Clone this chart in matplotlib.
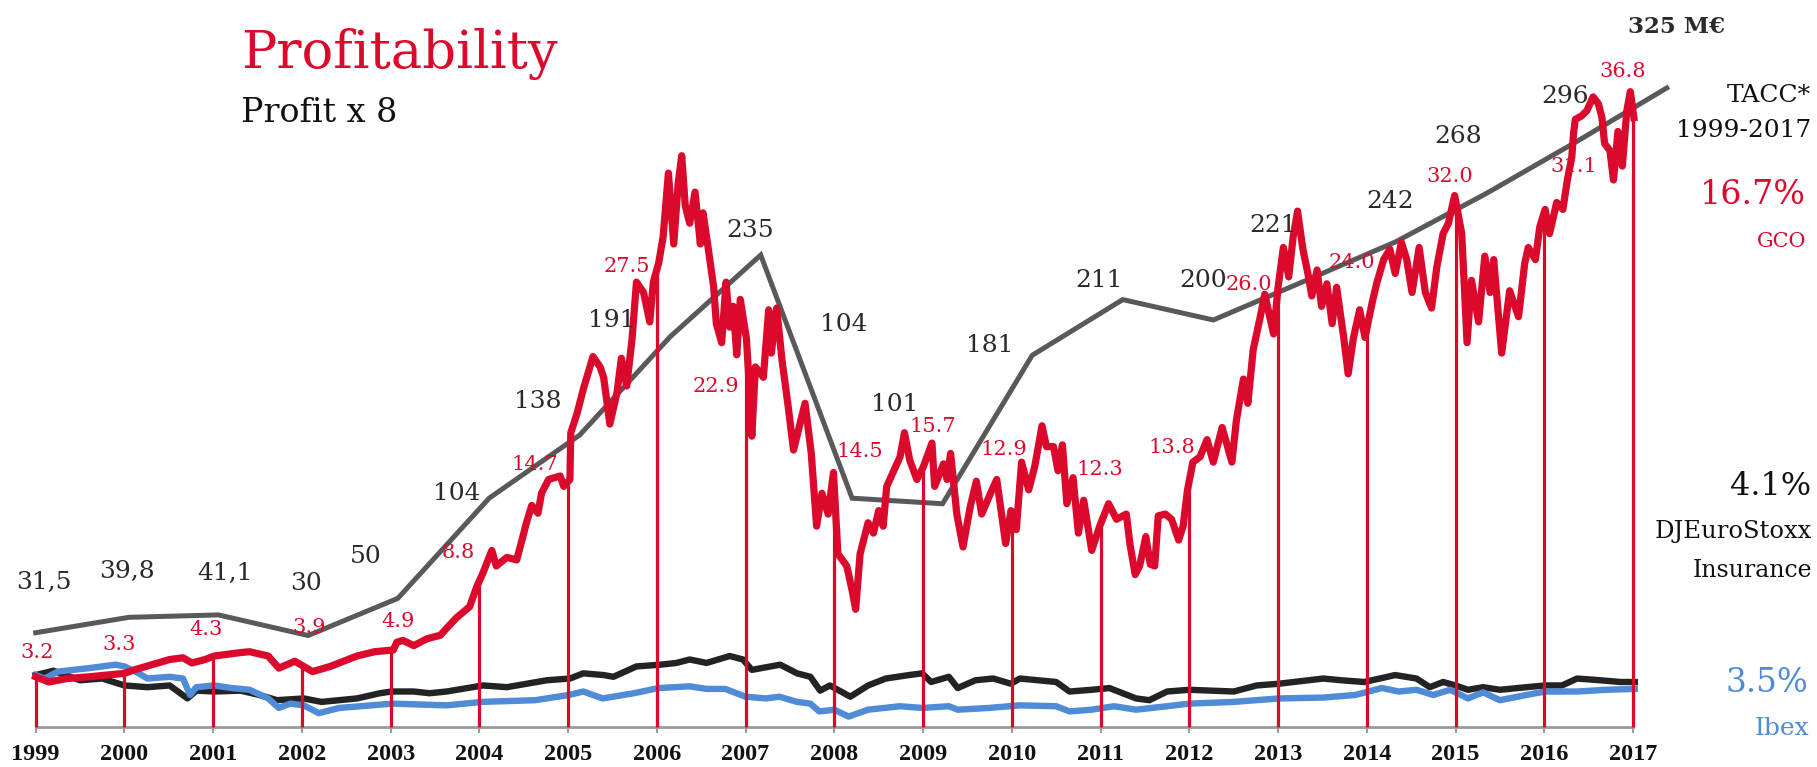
import numpy as np
import matplotlib
matplotlib.use('Agg')
import matplotlib.pyplot as plt

# GCO share price (EUR)
gco_t = [1999.00, 1999.15, 1999.35, 1999.60, 1999.80, 2000.00, 2000.11, 2000.31, 2000.51, 2000.66,
         2000.76, 2000.91, 2001.01, 2001.31, 2001.41, 2001.62, 2001.74, 2001.92, 2002.02, 2002.12,
         2002.32, 2002.62, 2002.82, 2003.03, 2003.07, 2003.14, 2003.26, 2003.41, 2003.56, 2003.63,
         2003.74, 2003.89, 2003.97, 2004.04, 2004.14, 2004.19, 2004.31, 2004.42, 2004.48, 2004.53,
         2004.59, 2004.66, 2004.70, 2004.78, 2004.91, 2004.95, 2005.02, 2005.03, 2005.10, 2005.17,
         2005.28, 2005.36, 2005.40, 2005.47, 2005.55, 2005.60, 2005.66, 2005.72, 2005.77, 2005.85,
         2005.92, 2005.96, 2006.02, 2006.07, 2006.13, 2006.19, 2006.24, 2006.28, 2006.32, 2006.37,
         2006.43, 2006.49, 2006.52, 2006.58, 2006.64, 2006.67, 2006.73, 2006.78, 2006.82, 2006.86,
         2006.90, 2006.94, 2007.01, 2007.05, 2007.07, 2007.11, 2007.20, 2007.26, 2007.29, 2007.35,
         2007.41, 2007.48, 2007.54, 2007.67, 2007.74, 2007.80, 2007.86, 2007.93, 2007.99, 2008.04,
         2008.14, 2008.20, 2008.24, 2008.29, 2008.38, 2008.44, 2008.50, 2008.55, 2008.59, 2008.66,
         2008.74, 2008.79, 2008.85, 2008.93, 2009.00, 2009.10, 2009.13, 2009.23, 2009.27, 2009.31,
         2009.38, 2009.45, 2009.53, 2009.60, 2009.66, 2009.76, 2009.83, 2009.89, 2009.93, 2009.99,
         2010.05, 2010.11, 2010.19, 2010.26, 2010.34, 2010.39, 2010.47, 2010.52, 2010.57, 2010.62,
         2010.69, 2010.75, 2010.81, 2010.90, 2010.99, 2011.09, 2011.18, 2011.29, 2011.33, 2011.39,
         2011.44, 2011.51, 2011.56, 2011.61, 2011.65, 2011.73, 2011.80, 2011.88, 2011.93, 2011.98,
         2012.04, 2012.12, 2012.20, 2012.27, 2012.37, 2012.42, 2012.48, 2012.53, 2012.61, 2012.66,
         2012.72, 2012.80, 2012.85, 2012.95, 2013.00, 2013.06, 2013.12, 2013.17, 2013.22, 2013.28,
         2013.34, 2013.38, 2013.44, 2013.49, 2013.55, 2013.61, 2013.66, 2013.74, 2013.79, 2013.85,
         2013.92, 2013.98, 2014.06, 2014.11, 2014.19, 2014.26, 2014.32, 2014.39, 2014.45, 2014.51,
         2014.59, 2014.66, 2014.73, 2014.79, 2014.86, 2014.92, 2014.99, 2015.07, 2015.13, 2015.18,
         2015.26, 2015.33, 2015.39, 2015.43, 2015.52, 2015.61, 2015.71, 2015.78, 2015.82, 2015.90,
         2015.95, 2016.01, 2016.06, 2016.14, 2016.21, 2016.26, 2016.31, 2016.33, 2016.35, 2016.42,
         2016.48, 2016.55, 2016.61, 2016.65, 2016.68, 2016.74, 2016.78, 2016.83, 2016.88, 2016.93,
         2016.97, 2017.01]
gco_p = [2.9, 2.6, 2.8, 2.9, 3.0, 3.1, 3.3, 3.6, 3.9, 4.0,
         3.7, 3.9, 4.1, 4.3, 4.35, 4.1, 3.4, 3.8, 3.5, 3.2,
         3.5, 4.1, 4.35, 4.45, 4.9, 5.0, 4.7, 5.1, 5.3, 5.7,
         6.3, 6.95, 8.1, 8.9, 10.2, 9.3, 9.8, 9.65, 10.8, 11.8,
         12.8, 12.35, 13.5, 14.3, 14.5, 13.9, 14.3, 17.0, 18.1, 19.5,
         21.4, 20.8, 20.2, 17.5, 19.3, 21.3, 19.7, 22.4, 25.7, 25.1,
         23.4, 25.7, 26.8, 28.3, 32.0, 27.9, 31.4, 33.0, 30.1, 29.1,
         30.9, 27.9, 29.7, 27.6, 25.4, 23.3, 22.2, 25.7, 23.1, 24.3,
         21.5, 24.7, 22.4, 18.9, 16.8, 20.8, 20.2, 24.1, 21.6, 24.2,
         21.2, 18.5, 16.0, 18.7, 15.8, 11.6, 13.5, 12.3, 14.7, 10.0,
         9.3, 7.9, 6.8, 10.0, 11.8, 11.2, 12.5, 11.6, 13.9, 14.7,
         15.6, 17.0, 15.4, 14.3, 15.0, 16.4, 13.9, 15.2, 14.3, 15.8,
         12.3, 10.4, 12.7, 14.2, 12.3, 13.5, 14.3, 12.1, 10.6, 12.5,
         11.4, 15.3, 13.7, 15.1, 17.4, 16.2, 16.2, 14.8, 16.3, 12.9,
         14.4, 11.2, 13.1, 10.2, 11.6, 12.9, 12.0, 12.3, 10.6, 8.8,
         9.3, 11.0, 9.4, 9.3, 12.2, 12.3, 12.0, 10.8, 11.6, 13.7,
         15.3, 15.6, 16.6, 15.3, 17.3, 16.4, 15.3, 17.7, 20.1, 18.7,
         21.8, 23.7, 25.0, 22.7, 25.4, 27.7, 26.0, 28.3, 29.8, 27.6,
         26.1, 24.9, 26.4, 24.3, 25.6, 23.3, 25.4, 22.5, 20.4, 22.5,
         24.1, 22.5, 24.5, 25.6, 27.0, 27.6, 26.2, 28.0, 27.0, 25.1,
         27.7, 25.1, 24.2, 26.6, 28.5, 29.1, 30.7, 28.5, 22.2, 25.8,
         23.4, 27.2, 25.1, 27.0, 21.6, 25.2, 23.7, 26.8, 27.7, 27.0,
         28.9, 29.9, 28.5, 30.3, 29.9, 31.6, 32.9, 34.3, 35.1, 35.3,
         35.6, 36.4, 36.0, 35.2, 33.7, 33.3, 31.6, 34.4, 32.4, 35.6,
         36.7, 35.2]

# DJ EuroStoxx Insurance, rebased to the GCO scale
stoxx_t = [1999.00, 1999.20, 1999.50, 1999.75, 2000.00, 2000.26, 2000.51, 2000.71, 2000.81, 2001.01,
           2001.31, 2001.52, 2001.72, 2002.02, 2002.22, 2002.62, 2002.88, 2003.01, 2003.26, 2003.44,
           2003.63, 2004.04, 2004.31, 2004.76, 2005.02, 2005.17, 2005.40, 2005.51, 2005.77, 2006.04,
           2006.22, 2006.37, 2006.56, 2006.82, 2006.97, 2007.07, 2007.39, 2007.58, 2007.73, 2007.84,
           2007.95, 2008.18, 2008.38, 2008.58, 2008.84, 2008.99, 2009.09, 2009.29, 2009.39, 2009.59,
           2009.79, 2009.99, 2010.09, 2010.50, 2010.65, 2010.90, 2011.10, 2011.40, 2011.55, 2011.75,
           2012.00, 2012.50, 2012.76, 2013.01, 2013.51, 2013.71, 2013.97, 2014.32, 2014.56, 2014.71,
           2014.86, 2015.00, 2015.14, 2015.31, 2015.50, 2015.80, 2016.01, 2016.20, 2016.37, 2016.63,
           2016.86, 2017.02]
stoxx_p = [3.0, 3.25, 2.7, 2.8, 2.4, 2.3, 2.4, 1.65, 2.1, 2.05,
           2.1, 1.85, 1.55, 1.65, 1.45, 1.65, 1.95, 2.05, 2.05, 1.95,
           2.05, 2.4, 2.3, 2.7, 2.8, 3.1, 3.0, 2.9, 3.5, 3.6,
           3.7, 3.9, 3.7, 4.1, 3.9, 3.3, 3.6, 3.1, 2.9, 2.1,
           2.4, 1.75, 2.4, 2.8, 3.0, 3.1, 2.6, 2.9, 2.25, 2.7,
           2.8, 2.5, 2.8, 2.6, 2.05, 2.15, 2.25, 1.65, 1.55, 2.05,
           2.15, 2.05, 2.4, 2.5, 2.8, 2.7, 2.6, 3.0, 2.8, 2.3,
           2.6, 2.4, 2.15, 2.3, 2.15, 2.3, 2.4, 2.4, 2.8, 2.7,
           2.6, 2.6]

# Ibex 35, rebased to the GCO scale
ibex_t = [1999.00, 1999.10, 1999.25, 1999.60, 1999.90, 2000.00, 2000.16, 2000.26, 2000.51, 2000.66,
          2000.74, 2000.81, 2001.01, 2001.21, 2001.41, 2001.62, 2001.74, 2001.87, 2002.02, 2002.19,
          2002.42, 2003.02, 2003.63, 2004.03, 2004.63, 2005.01, 2005.17, 2005.39, 2005.74, 2006.02,
          2006.37, 2006.56, 2006.77, 2007.00, 2007.23, 2007.38, 2007.58, 2007.73, 2007.83, 2008.00,
          2008.16, 2008.38, 2008.74, 2008.99, 2009.29, 2009.39, 2009.74, 2010.09, 2010.50, 2010.65,
          2010.90, 2011.15, 2011.40, 2011.75, 2012.00, 2012.50, 2013.01, 2013.51, 2013.87, 2014.17,
          2014.36, 2014.56, 2014.75, 2014.94, 2015.14, 2015.31, 2015.50, 2015.80, 2016.01, 2016.37,
          2016.70, 2017.02]
ibex_p = [3.0, 2.8, 3.2, 3.4, 3.6, 3.5, 3.1, 2.8, 2.9, 2.8,
          1.85, 2.3, 2.4, 2.25, 2.15, 1.65, 1.1, 1.35, 1.25, 0.8,
          1.1, 1.35, 1.25, 1.45, 1.55, 1.85, 2.05, 1.65, 1.95, 2.25,
          2.35, 2.2, 2.2, 1.75, 1.65, 1.75, 1.45, 1.35, 0.9, 1.0,
          0.6, 1.0, 1.2, 1.1, 1.2, 1.0, 1.1, 1.25, 1.2, 0.9,
          1.0, 1.2, 1.0, 1.2, 1.35, 1.45, 1.65, 1.7, 1.85, 2.25,
          2.05, 2.15, 1.85, 2.15, 1.65, 2.0, 1.55, 1.85, 2.05, 2.05,
          2.15, 2.2]

# profit (M EUR), one point per year
profit_t = [1999.0, 2000.05, 2001.06, 2002.07, 2003.08, 2004.11, 2005.13, 2006.15, 2007.17, 2008.2,
            2009.22, 2010.23, 2011.25, 2012.27, 2013.3, 2014.32, 2015.34, 2016.36, 2017.38]
profit = [31.5, 39.8, 41.1, 30, 50, 104, 138, 191, 235, 104,
          101, 181, 211, 200, 221, 242, 268, 296, 325]
profit_lbl = ['31,5', '39,8', '41,1', '30', '50', '104', '138', '191', '235', '104',
              '101', '181', '211', '200', '221', '242', '268', '296']

years = list(range(1999, 2018))
year_price = ['3.2', '3.3', '4.3', '3.9', '4.9', '8.8', '14.7', '27.5', '22.9', '14.5',
              '15.7', '12.9', '12.3', '13.8', '26.0', '24.0', '32.0', '31.1', '36.8']

# label anchors in pixels (center x, baseline y)
profit_lbl_xy = [(44, 589), (127, 578), (225, 580), (306, 590), (366, 563), (457, 500), (538, 408),
                 (612, 327), (750, 237), (844, 331), (895, 411), (990, 352), (1099, 287), (1203, 287),
                 (1273, 232), (1390, 208), (1458, 143), (1565, 103)]
price_lbl_xy = [(37, 658), (119, 650), (206, 635), (309, 633), (398, 627), (458, 558), (535, 470),
                (627, 272), (716, 392), (860, 457), (933, 432), (1004, 455), (1100, 475), (1172, 453),
                (1249, 290), (1352, 268), (1450, 182), (1574, 172), (1623, 77)]

W, H = 1817, 767
RED = '#DB0A2D'
BLUE = '#4F8BD6'
BLACK = '#232323'
GREY = '#595959'
FONT = 'DejaVu Serif'


def ftext(x, y, s, **kw):
    kw.setdefault('family', FONT)
    fig.text(x / W, 1 - y / H, s, **kw)


fig = plt.figure(figsize=(W / 100, H / 100), dpi=100)
ax = fig.add_axes([35.7 / W, 40 / H, (1633 - 35.7) / W, 667 / H])
ax.set_xlim(1999, 2017)
ax.set_ylim(-19.29, 340.09)
ax.plot(profit_t, profit, color=GREY, lw=3.6, clip_on=False, solid_joinstyle='miter')

ax2 = ax.twinx()
ax2.set_ylim(0, 38.53)
ax2.plot(stoxx_t, stoxx_p, color=BLACK, lw=4.6, zorder=2, clip_on=False)
ax2.plot(ibex_t, ibex_p, color=BLUE, lw=4.6, zorder=2, clip_on=False)
ax2.vlines(years, 0, np.interp(years, gco_t, gco_p), color=RED, lw=2.3, zorder=3, clip_on=False)
ax2.plot(gco_t, gco_p, color=RED, lw=5.2, zorder=4, clip_on=False, solid_joinstyle='round')

for a in (ax, ax2):
    for s in a.spines.values():
        s.set_visible(False)
    a.set_yticks([])
ax.spines['bottom'].set_visible(True)
ax.spines['bottom'].set_color('#9b9b9b')
ax.spines['bottom'].set_linewidth(2)
ax.set_xticks(years)
ax.set_xticklabels([])
ax.tick_params(axis='x', length=4.5, width=1.5, color='#9b9b9b')

for y in years:
    ax.annotate(str(y), xy=(y, 0), xycoords=('data', 'axes fraction'), xytext=(0, -24),
                textcoords='offset points', ha='center', va='baseline', family='Liberation Serif',
                fontweight='bold', fontsize=17.5, color='#111111')

for s, (x, y) in zip(profit_lbl, profit_lbl_xy):
    ftext(x, y, s, ha='center', va='baseline', fontsize=18, color='#2a2a2a')
for s, (x, y) in zip(year_price, price_lbl_xy):
    ftext(x, y, s, ha='center', va='baseline', fontsize=15, color=RED)

ftext(1677, 33, '325 M€', ha='center', va='baseline', fontsize=16.5, fontweight='bold', color='#2a2a2a')

ftext(241, 68, 'Profitability', ha='left', va='baseline', fontsize=38, color=RED)
ftext(241, 122, 'Profit x 8', ha='left', va='baseline', fontsize=24, color='#111111')

ftext(1811, 102, 'TACC*', ha='right', va='baseline', fontsize=18, color='#111111')
ftext(1811, 137, '1999-2017', ha='right', va='baseline', fontsize=18, color='#111111')
ftext(1806, 204, '16.7%', ha='right', va='baseline', fontsize=24, color=RED)
ftext(1806, 247, 'GCO', ha='right', va='baseline', fontsize=15, color=RED)
ftext(1811, 495, '4.1%', ha='right', va='baseline', fontsize=23, color='#111111')
ftext(1812, 538, 'DJEuroStoxx', ha='right', va='baseline', fontsize=17.5, color='#111111')
ftext(1812, 577, 'Insurance', ha='right', va='baseline', fontsize=17, color='#111111')
ftext(1808, 692, '3.5%', ha='right', va='baseline', fontsize=23.5, color=BLUE)
ftext(1809, 735, 'Ibex', ha='right', va='baseline', fontsize=18, color=BLUE)

fig.savefig('out.png', dpi=100, facecolor='white')
